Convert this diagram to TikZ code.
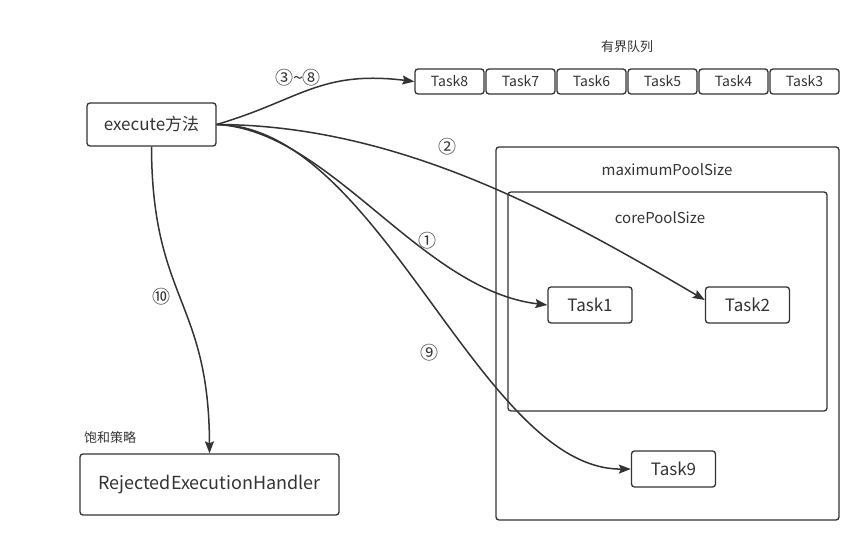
\documentclass[tikz,border=0pt]{standalone}
\usepackage{fontspec}
\setmainfont{Noto Sans CJK SC}
\usetikzlibrary{arrows.meta,positioning}
\definecolor{linegray}{HTML}{333333}
\tikzset{box/.style={draw=linegray, line width=1.3pt, rounded corners=3pt, inner sep=0pt, text=linegray},
 task/.style={box, minimum width=84pt, minimum height=36pt, font=\fontsize{17}{20}\selectfont},
 qtask/.style={box, minimum width=69pt, minimum height=25pt, font=\fontsize{14}{16}\selectfont},
 flow/.style={draw=linegray, line width=1.5pt, -{Stealth[length=12pt,width=9pt,inset=2pt]}},
 tag/.style={text=linegray, inner sep=0pt, font=\fontsize{14}{16}\selectfont},
 step label/.style={tag, font=\fontsize{18}{20}\selectfont},
 }

\begin{document}
\begin{tikzpicture}[x=1pt, y=-1pt]
    \useasboundingbox (0,0) rectangle (864,545);
    % pools
    \node[box, minimum width=343pt, minimum height=373pt] (maxpool) at (667.5,333.5) {};
    \node[tag, font=\fontsize{15}{18}\selectfont] (maxlabel) at (667,170) {maximumPoolSize};
    \node[box, minimum width=319pt, minimum height=219pt] (corepool) at (667.5,301.5) {};
    \node[tag, font=\fontsize{15}{18}\selectfont] (corelabel) at (660,218) {corePoolSize};
    \node[task] (t1) at (590,305) {Task1};
    \node[task] (t2) at (747.5,305) {Task2};
    \node[task] (t9) at (673.5,469) {Task9};
    % queue
    \foreach \x[count=\i] in {8, 7, 6, 5, 4, 3} {
        \node[qtask] (q\x) at ({449.5+71*(\i-1)}, 81.5) {Task\x};
    }
    \node[tag, font=\fontsize{13}{15}\selectfont] (qlabel) at (627,47) {有界队列};
    % caller and handler
    \node[box, minimum width=129pt, minimum height=43pt, font=\fontsize{17}{20}\selectfont] (exec) at (151.5,124.5) {execute方法};
    \node[box, minimum width=259pt, minimum height=61pt, font=\fontsize{18}{21}\selectfont] (rej) at (209.5,484.5) {RejectedExecutionHandler};
    \node[tag, font=\fontsize{13}{15}\selectfont] (rejlabel) at (110,438) {饱和策略};
    % flows
    \draw[flow] (exec.east) .. controls (300,100) and (320,70) .. (q8.west);
    \draw[flow] (exec.east) .. controls (400,125) and (560,215) .. ([yshift=5pt]t2.west);
    \draw[flow] (exec.east) .. controls (330,130) and (420,290) .. (t1.west);
    \draw[flow] (exec.east) .. controls (380,125) and (480,470) .. (t9.west);
    \draw[flow] (exec.south) .. controls (152,300) and (209,300) .. (rej.north);
    \node[step label] (n38) at (298,78) {③\textasciitilde⑧};
    \node[step label] (n2) at (447,147) {②};
    \node[step label] (n1) at (427,241) {①};
    \node[step label] (n9) at (429,353) {⑨};
    \node[step label] (n10) at (161,297) {⑩};
\end{tikzpicture}
\end{document}
